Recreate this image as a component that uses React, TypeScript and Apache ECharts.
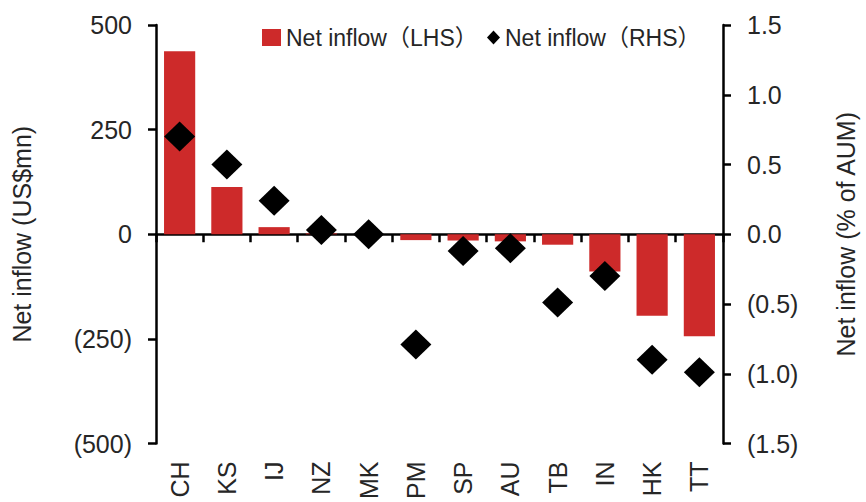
import React, { useEffect, useRef } from "react";
import * as echarts from "echarts";

const categories = ["CH", "KS", "IJ", "NZ", "MK", "PM", "SP", "AU", "TB", "IN", "HK", "TT"];
const netInflowLHS = [437, 113, 17, 2, 0, -14, -15, -17, -25, -89, -195, -244];
const netInflowRHS = [0.7, 0.5, 0.24, 0.03, 0.0, -0.79, -0.12, -0.1, -0.49, -0.3, -0.9, -0.99];
const lhsName = "Net inflow（LHS）";
const rhsName = "Net inflow（RHS）";
const leftTitle = "Net inflow (US$mn)";
const rightTitle = "Net inflow (% of AUM)";

const FONT = "'Liberation Sans', Arial, 'Noto Sans CJK SC', sans-serif";
const TEXT = "#262626";
const RED = "#CD2A2A";

const paren = (v: number, d: number) => {
  const s = Math.abs(v).toFixed(d);
  return v < 0 ? `(${s})` : s;
};

export default function App() {
  const ref = useRef<HTMLDivElement>(null);
  useEffect(() => {
    if (!ref.current) return;
    const chart = echarts.init(ref.current, undefined, { renderer: "svg" });
    const axisLine = { show: true, lineStyle: { color: "#000", width: 2.5 } };
    const tick = { show: true, length: 8, lineStyle: { color: "#000", width: 2.5 } };
    chart.setOption({
      animation: false,
      backgroundColor: "#fff",
      textStyle: { fontFamily: FONT },
      grid: { left: 156, right: 133, top: 25, bottom: 53, containLabel: false },
      legend: [
        {
          data: [{ name: lhsName, icon: "rect" }],
          left: 262,
          top: 26,
          padding: 0,
          itemWidth: 19,
          itemHeight: 17,
          textStyle: { fontFamily: FONT, fontSize: 23, color: TEXT },
        },
        {
          data: [{ name: rhsName, icon: "diamond" }],
          left: 487,
          top: 26,
          padding: 0,
          itemWidth: 13,
          itemHeight: 14,
          textStyle: { fontFamily: FONT, fontSize: 23, color: TEXT },
        },
      ],
      xAxis: [
        {
          type: "category",
          data: categories,
          position: "bottom",
          axisLine: { show: false, onZero: false },
          axisTick: { show: false },
          axisLabel: { rotate: 90, margin: 18, fontSize: 25, color: TEXT, fontFamily: FONT, interval: 0 },
          splitLine: { show: false },
        },
        {
          type: "category",
          data: categories,
          position: "top",
          axisLine: { ...axisLine, onZero: true, onZeroAxisIndex: 0 },
          axisTick: { ...tick, inside: true, length: 8 },
          axisLabel: { show: false },
          splitLine: { show: false },
        },
      ],
      yAxis: [
        {
          type: "value",
          position: "left",
          min: -500,
          max: 500,
          interval: 250,
          axisLine,
          axisTick: tick,
          splitLine: { show: false },
          axisLabel: {
            margin: 24,
            fontSize: 25,
            color: TEXT,
            fontFamily: FONT,
            formatter: (v: number) => paren(v, 0),
          },
          name: leftTitle,
          nameLocation: "middle",
          nameRotate: 90,
          nameGap: 122,
          nameTextStyle: { fontSize: 25, color: TEXT, fontFamily: FONT },
        },
        {
          type: "value",
          position: "right",
          min: -1.5,
          max: 1.5,
          interval: 0.5,
          axisLine,
          axisTick: tick,
          splitLine: { show: false },
          axisLabel: {
            margin: 24,
            fontSize: 25,
            color: TEXT,
            fontFamily: FONT,
            formatter: (v: number) => paren(v, 1),
          },
          name: rightTitle,
          nameLocation: "middle",
          nameRotate: 90,
          nameGap: 110,
          nameTextStyle: { fontSize: 25, color: TEXT, fontFamily: FONT },
        },
      ],
      series: [
        {
          name: lhsName,
          type: "bar",
          xAxisIndex: 0,
          yAxisIndex: 0,
          data: netInflowLHS,
          barWidth: "66%",
          itemStyle: { color: RED },
          z: 2,
        },
        {
          name: rhsName,
          type: "scatter",
          xAxisIndex: 0,
          yAxisIndex: 1,
          data: netInflowRHS,
          symbol: "diamond",
          symbolSize: [31, 30],
          itemStyle: { color: "#000", opacity: 1 },
          z: 5,
        },
      ],
    });
    return () => chart.dispose();
  }, []);
  return (
    <div style={{ position: "fixed", left: 0, top: 0, width: 866, height: 502, overflow: "hidden", background: "#fff" }}>
      <div ref={ref} style={{ width: 866, height: 502 }} />
    </div>
  );
}
